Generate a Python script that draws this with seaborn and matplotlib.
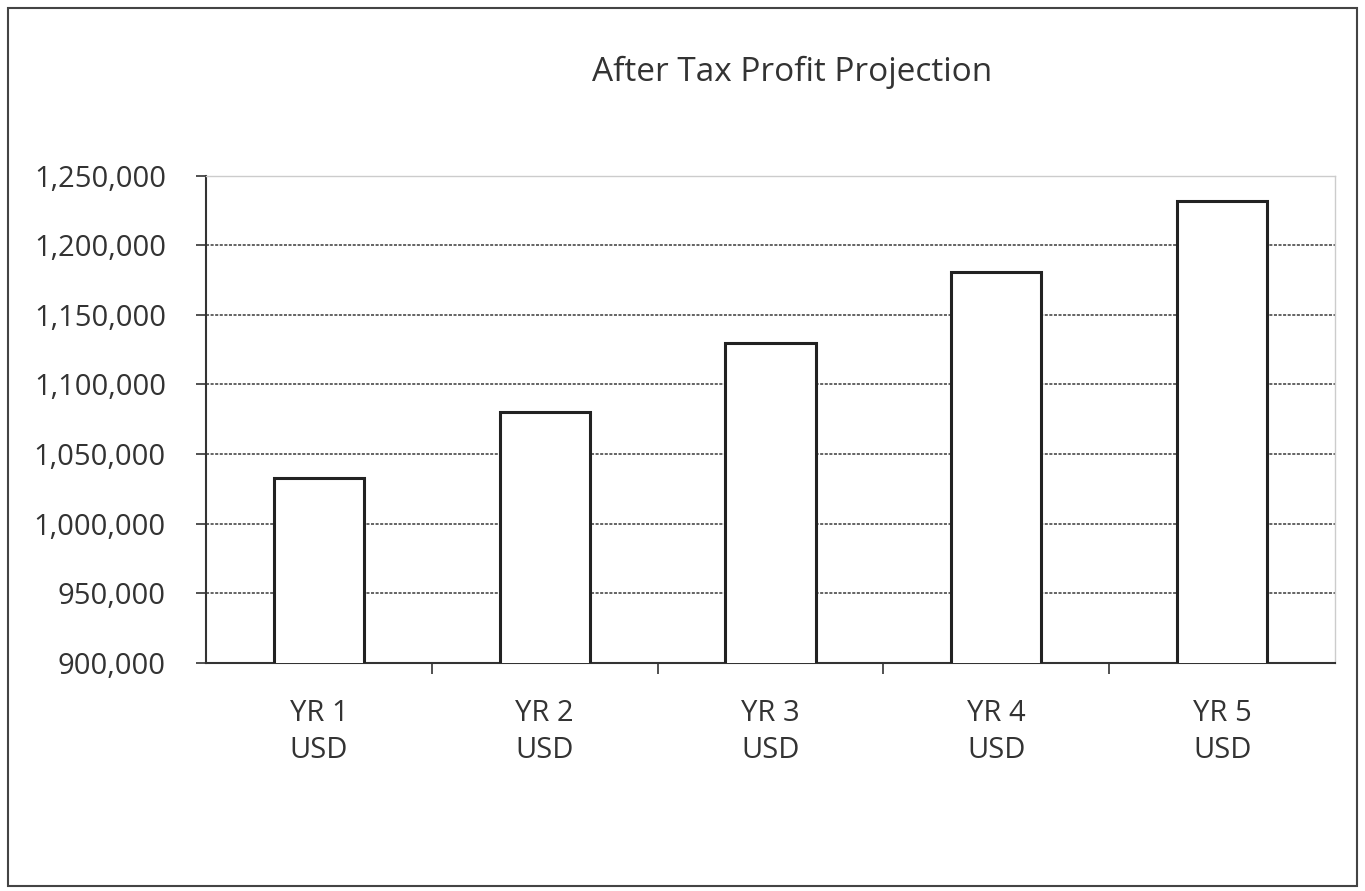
import matplotlib
matplotlib.use("Agg")
import matplotlib.pyplot as plt
import matplotlib.ticker as mticker
from matplotlib.patches import Rectangle
import seaborn as sns
import pandas as pd

years = ["YR 1\nUSD", "YR 2\nUSD", "YR 3\nUSD", "YR 4\nUSD", "YR 5\nUSD"]
profit = [1033000, 1080000, 1130000, 1181000, 1232000]
y_ticks = [900000, 950000, 1000000, 1050000, 1100000, 1150000, 1200000, 1250000]

data = pd.DataFrame({"Year": years, "Profit": profit})

sns.set_style("white")
plt.rcParams['font.family'] = ['Open Sans', 'DejaVu Sans']

fig = plt.figure(figsize=(13.65, 8.91), dpi=100)
ax = fig.add_axes([0.151, 0.256, 0.827, 0.547])

sns.barplot(x="Year", y="Profit", data=data, color="white", edgecolor="#222222",
            linewidth=2.2, width=0.4, ax=ax, zorder=3)

ax.set_ylim(900000, 1250000)
ax.set_xlim(-0.5, len(years) - 0.5)
ax.set_yticks(y_ticks)
ax.yaxis.set_major_formatter(mticker.FuncFormatter(lambda v, p: f"{int(v):,}"))
ax.yaxis.grid(True, linestyle=(0, (2, 1)), color="#3a3a3a", linewidth=1.1, zorder=0)
ax.set_axisbelow(True)

# category ticks between bars, labels centred on bars
ax.set_xticks([i + 0.5 for i in range(len(years) - 1)])
ax.set_xticklabels([])
ax.set_xticks(range(len(years)), minor=True)
ax.set_xticklabels(years, minor=True, fontsize=21, color="#333333", linespacing=1.35)
ax.tick_params(axis="x", which="major", bottom=True, direction="out", length=8,
               width=1.2, color="#333333")
ax.tick_params(axis="x", which="minor", bottom=True, length=0, pad=26)
ax.tick_params(axis="y", left=True, direction="out", length=7, width=1.2, color="#333333",
               labelsize=21, labelcolor="#333333", pad=22)

ax.set_xlabel("")
ax.set_ylabel("")
for s in ["left", "bottom"]:
    ax.spines[s].set_color("#333333")
    ax.spines[s].set_linewidth(1.5)
for s in ["top", "right"]:
    ax.spines[s].set_color("#cccccc")
    ax.spines[s].set_linewidth(1)

fig.text(0.580, 0.919, "After Tax Profit Projection", ha="center", va="center",
         fontsize=24, color="#333333")

fig.patches.append(Rectangle((0.006, 0.006), 0.988, 0.985, transform=fig.transFigure,
                             fill=False, edgecolor="#444444", linewidth=1.5))

fig.savefig("out.png", dpi=100)
